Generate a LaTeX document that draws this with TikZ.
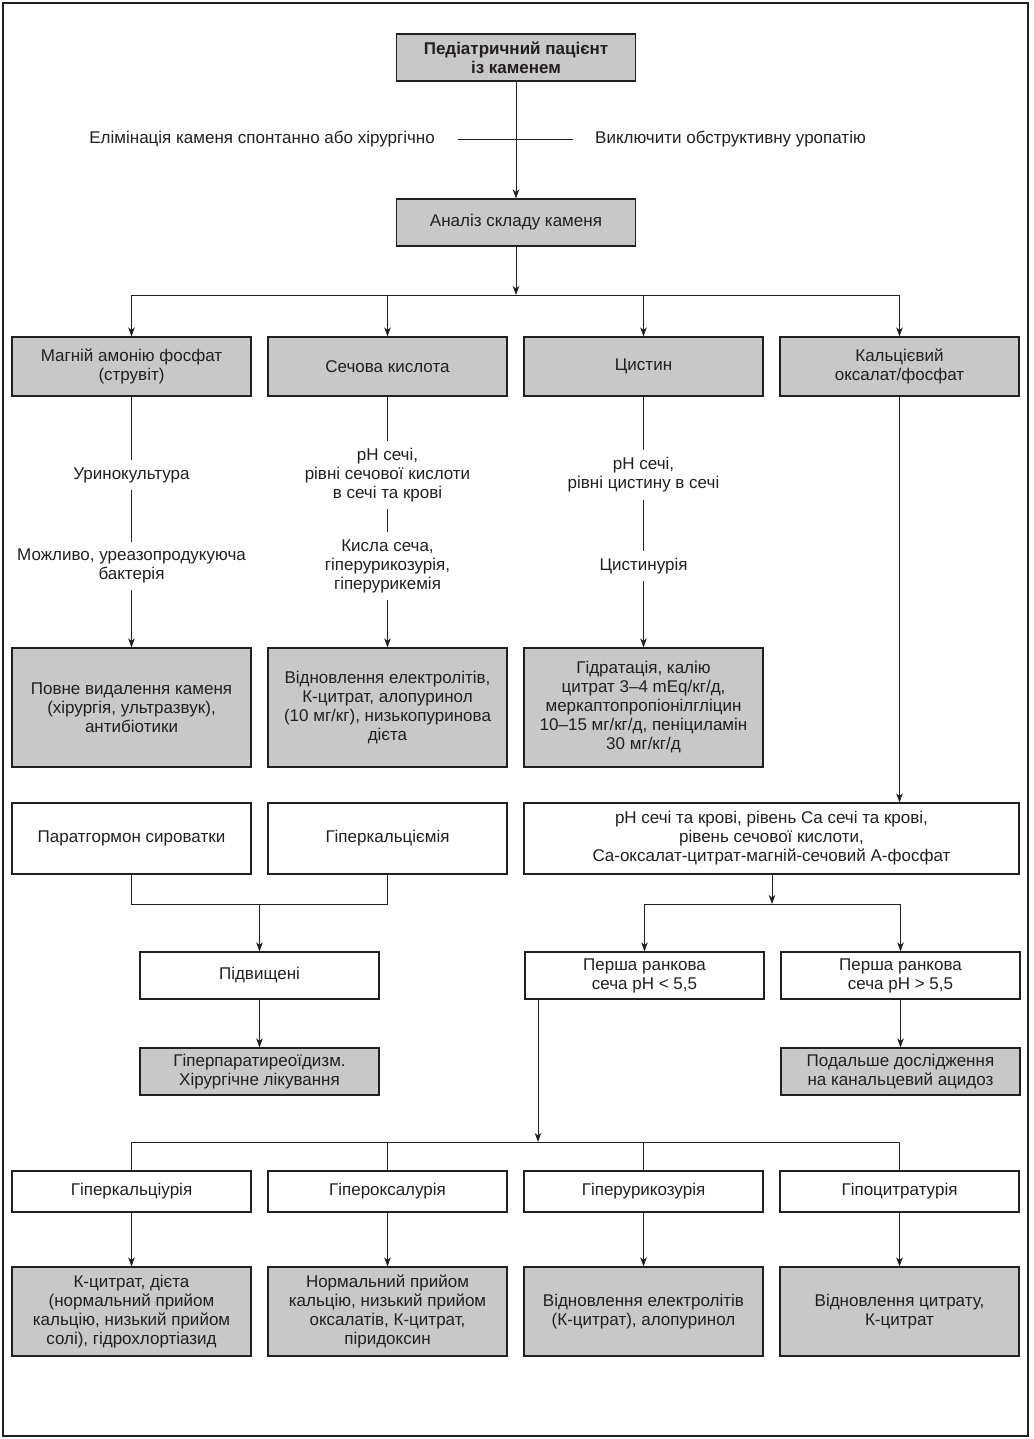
\documentclass[tikz,border=0pt]{standalone}
\usepackage{fontspec}
\setmainfont{Liberation Sans}
\usetikzlibrary{arrows.meta}
\definecolor{stonegray}{RGB}{200,200,200}
\definecolor{inkblack}{RGB}{35,31,32}
\begin{document}
\begin{tikzpicture}[x=1pt,y=-1pt,>={Stealth[length=9pt,width=6.5pt,inset=2.5pt]},
 font=\fontsize{17}{19}\selectfont,text=inkblack,
 box/.style={draw=inkblack,line width=1.1pt,minimum width=239pt,align=center,inner sep=0pt},
 gbox/.style={box,fill=stonegray},
 lbl/.style={align=center,inner xsep=0pt,inner ysep=7pt},
 link/.style={draw=inkblack,line width=0.9pt}]
\useasboundingbox (0,0) rectangle (1033,1439);
\draw[inkblack,line width=1.2pt] (3,3) rectangle (1028,1436);
% top of the chart
\node[gbox,minimum height=47pt,font=\fontsize{17}{19}\selectfont\bfseries] (patient) at (516,57.5) {Педіатричний пацієнт\\із каменем};
\node[gbox,minimum height=47pt] (analysis) at (516,222.5) {Аналіз складу каменя};
\node[anchor=east,inner sep=0pt] (elim) at (435,139) {Елімінація каменя спонтанно або хірургічно};
\node[anchor=west,inner sep=0pt] (excl) at (595,139) {Виключити обструктивну уропатію};
\draw[link] ([xshift=23pt]elim.east) -- ([xshift=-22pt]excl.west);
\draw[link,->] (patient) -- (analysis);
\coordinate (bus1) at (516,295);
% stone types
\node[gbox,minimum height=59pt] (mag) at (131.5,366.5) {Магній амонію фосфат\\(струвіт)};
\node[gbox,minimum height=59pt] (uric) at (387.5,366.5) {Сечова кислота};
\node[gbox,minimum height=59pt] (cyst) at (643.5,366.5) {Цистин};
\node[gbox,minimum height=59pt] (calc) at (899.5,366.5) {Кальцієвий\\оксалат/фосфат};
\draw[link,->] (analysis) -- (bus1);
\draw[link] (bus1 -| mag) -- (bus1 -| calc);
\foreach \n in {mag,uric,cyst,calc}{\draw[link,->] (bus1 -| \n) -- (\n);}
% tests per column
\node[lbl] (urine) at (131.5,475) {Уринокультура};
\node[lbl] (bact) at (131.5,566) {Можливо, уреазопродукуюча\\бактерія};
\node[lbl] (phuric) at (387.5,475) {pH сечі,\\рівні сечової кислоти\\в сечі та крові};
\node[lbl] (acid) at (387.5,566) {Кисла сеча,\\гіперурикозурія,\\гіперурикемія};
\node[lbl] (phcyst) at (643.5,475) {pH сечі,\\рівні цистину в сечі};
\node[lbl] (cystu) at (643.5,566) {Цистинурія};
% treatments
\node[gbox,minimum height=119pt] (tmag) at (131.5,707.5) {Повне видалення каменя\\(хірургія, ультразвук),\\антибіотики};
\node[gbox,minimum height=119pt] (turic) at (387.5,707.5) {Відновлення електролітів,\\К-цитрат, алопуринол\\(10 мг/кг), низькопуринова\\дієта};
\node[gbox,minimum height=119pt] (tcyst) at (643.5,707.5) {Гідратація, калію\\цитрат 3–4 mEq/кг/д,\\меркаптопропіонілгліцин\\10–15 мг/кг/д, пеніциламін\\30 мг/кг/д};
\draw[link] (mag) -- (urine) -- (bact);
\draw[link] (uric) -- (phuric) -- (acid);
\draw[link] (cyst) -- (phcyst) -- (cystu);
\foreach \a/\b in {bact/tmag,acid/turic,cystu/tcyst}{\draw[link,->] (\a) -- (\b);}
% calcium work-up
\node[box,minimum height=71pt] (ptg) at (131.5,838.5) {Паратгормон сироватки};
\node[box,minimum height=71pt] (hcalc) at (387.5,838.5) {Гіперкальціємія};
\node[box,minimum height=71pt,minimum width=495pt] (levels) at (771.5,838.5) {pH сечі та крові, рівень Ca сечі та крові,\\рівень сечової кислоти,\\Ca-оксалат-цитрат-магній-сечовий А-фосфат};
\draw[link,->] (calc.south) -- (calc.south |- levels.north);
\coordinate (join1) at (259.5,904);
\draw[link] (ptg.south) |- (join1) -| (hcalc.south);
\node[box,minimum height=47pt] (elev) at (259.5,975.5) {Підвищені};
\node[gbox,minimum height=47pt] (hpt) at (259.5,1071.5) {Гіперпаратиреоїдизм.\\Хірургічне лікування};
\draw[link,->] (join1) -- (elev);
\draw[link,->] (elev) -- (hpt);
\coordinate (join2) at (772,904);
\node[box,minimum height=47pt] (phlow) at (644.5,975.5) {Перша ранкова\\сеча pH < 5,5};
\node[box,minimum height=47pt] (phhigh) at (900.5,975.5) {Перша ранкова\\сеча pH > 5,5};
\node[gbox,minimum height=47pt] (renal) at (900.5,1071.5) {Подальше дослідження\\на канальцевий ацидоз};
\draw[link,->] (levels.south -| join2) -- (join2);
\draw[link] (join2 -| phlow) -- (join2 -| phhigh);
\foreach \n in {phlow,phhigh}{\draw[link,->] (join2 -| \n) -- (\n);}
\draw[link,->] (phhigh) -- (renal);
% low pH branch
\coordinate (bus2) at (538,1142);
\draw[link,->] (phlow.south -| bus2) -- (bus2);
\node[box,minimum height=41pt] (hcu) at (131.5,1191.5) {Гіперкальціурія};
\node[box,minimum height=41pt] (hox) at (387.5,1191.5) {Гіпероксалурія};
\node[box,minimum height=41pt] (hur) at (643.5,1191.5) {Гіперурикозурія};
\node[box,minimum height=41pt] (hci) at (899.5,1191.5) {Гіпоцитратурія};
\draw[link] (bus2 -| hcu) -- (bus2 -| hci);
\foreach \n in {hcu,hox,hur,hci}{\draw[link] (bus2 -| \n) -- (\n);}
\node[gbox,minimum height=89pt] (thcu) at (131.5,1311.5) {К-цитрат, дієта\\(нормальний прийом\\кальцію, низький прийом\\солі), гідрохлортіазид};
\node[gbox,minimum height=89pt] (thox) at (387.5,1311.5) {Нормальний прийом\\кальцію, низький прийом\\оксалатів, К-цитрат,\\піридоксин};
\node[gbox,minimum height=89pt] (thur) at (643.5,1311.5) {Відновлення електролітів\\(К-цитрат), алопуринол};
\node[gbox,minimum height=89pt] (thci) at (899.5,1311.5) {Відновлення цитрату,\\К-цитрат};
\foreach \a/\b in {hcu/thcu,hox/thox,hur/thur,hci/thci}{\draw[link,->] (\a) -- (\b);}
\end{tikzpicture}
\end{document}
